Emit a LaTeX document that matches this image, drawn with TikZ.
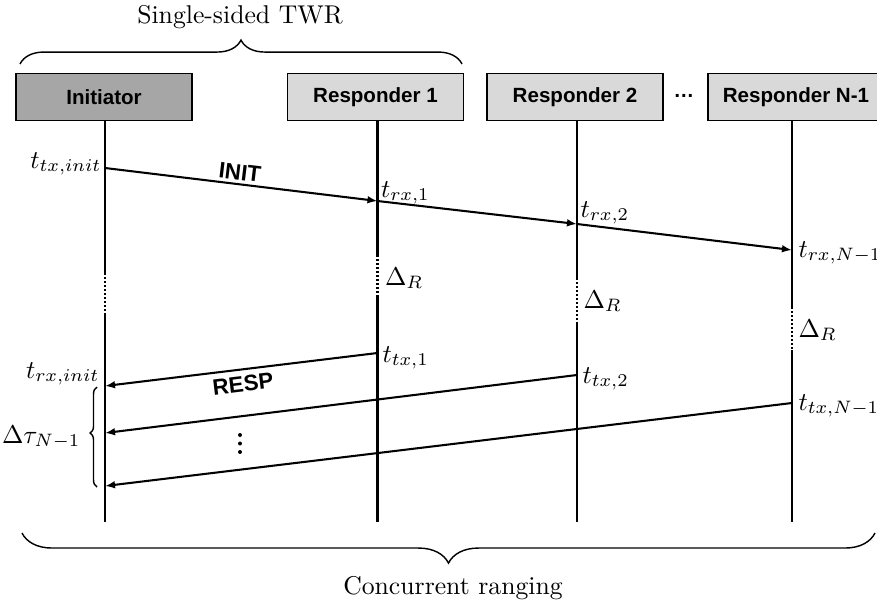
\documentclass[tikz,border=0pt]{standalone}
\usepackage{fontspec}
\newfontfamily\helv{Liberation Sans}
\usetikzlibrary{arrows.meta,decorations.pathreplacing}
\begin{document}
\begin{tikzpicture}[x=0.3891pt,y=-0.3891pt,
  actor/.style={draw=black, line width=0.5pt, minimum width=68.5pt,
    minimum height=18.3pt, inner sep=0pt,
    font=\helv\bfseries\fontsize{8}{9.6}\selectfont},
  lifeline/.style={line width=0.85pt},
  gap/.style={line width=0.85pt, dash pattern=on 0.78pt off 0.78pt},
  msg/.style={line width=0.8pt, -{Latex[length=3.9pt,width=3pt]}},
  msgtxt/.style={font=\helv\bfseries\fontsize{8.7}{10}\selectfont, sloped, inner sep=1.2pt},
  lbl/.style={inner sep=0pt},
  brc/.style={decorate, line width=0.55pt, decoration={brace, amplitude=#1}},
  brcside/.style={decorate, line width=0.55pt, decoration={brace, amplitude=2.7pt, aspect=0.54}},
]
\useasboundingbox (0,0) rectangle (877,613);

% participants
\node[actor, fill=black!35] (ini) at (104,97) {Initiator};
\node[actor, fill=black!15] (r1) at (375.5,97) {Responder 1};
\node[actor, fill=black!15] (r2) at (575,97) {Responder 2};
\node[actor, fill=black!15] (rn) at (796,97) {Responder N-1};
\node[font=\helv\bfseries\fontsize{8}{9.6}\selectfont] (more) at (684,96) {…};

% event points on the lifelines
\coordinate (tx0) at (105,168);
\coordinate (g0a) at (105,273);
\coordinate (g0b) at (105,315);
\coordinate (rxa) at (105,386);
\coordinate (rxb) at (105,433);
\coordinate (rxc) at (105,486);
\coordinate (e0)  at (105,522);

\coordinate (rx1) at (377.5,201);
\coordinate (g1a) at (377.5,255);
\coordinate (g1b) at (377.5,297);
\coordinate (tx1) at (377.5,353);
\coordinate (e1)  at (377.5,522);

\coordinate (rx2) at (577,224);
\coordinate (g2a) at (577,278);
\coordinate (g2b) at (577,322);
\coordinate (tx2) at (577,375);
\coordinate (e2)  at (577,522);

\coordinate (rx3) at (792,250);
\coordinate (g3a) at (792,307);
\coordinate (g3b) at (792,350);
\coordinate (tx3) at (792,403);
\coordinate (e3)  at (792,522);

% lifelines with their waiting gaps
\draw[lifeline] (ini.south -| tx0) -- (g0a);
\draw[gap] (g0a) -- (g0b);
\draw[lifeline] (g0b) -- (e0);
\draw[lifeline] (r1.south -| rx1) -- (g1a);
\draw[gap] (g1a) -- (g1b);
\draw[lifeline] (g1b) -- (e1);
\draw[lifeline] (r2.south -| rx2) -- (g2a);
\draw[gap] (g2a) -- (g2b);
\draw[lifeline] (g2b) -- (e2);
\draw[lifeline] (rn.south -| rx3) -- (g3a);
\draw[gap] (g3a) -- (g3b);
\draw[lifeline] (g3b) -- (e3);

% messages
\draw[msg] (tx0) -- node[msgtxt, above, pos=0.49] {INIT} (rx1);
\draw[msg] (rx1) -- (rx2);
\draw[msg] (rx2) -- (rx3);
\draw[msg] (tx1) -- node[msgtxt, below, pos=0.5, inner sep=2.2pt] {RESP} (rxa);
\draw[msg] (tx2) -- (rxb);
\draw[msg] (tx3) -- (rxc);

% vertical ellipsis between the responses
\fill (240,435) circle (2);
\fill (240,443.5) circle (2);
\fill (240,452) circle (2);

% timestamps
\node[lbl, anchor=base east] (ltx0) at ([shift={(-3,0)}]tx0) {$t_{tx,init}$};
\node[lbl, anchor=base west] (lrx1) at ([shift={(3,-4)}]rx1) {$t_{rx,1}$};
\node[lbl, anchor=base west] (lrx2) at ([shift={(3,-7)}]rx2) {$t_{rx,2}$};
\node[lbl, anchor=base west] (lrx3) at ([shift={(6,7)}]rx3) {$t_{rx,N-1}$};
\node[lbl, anchor=base west] (d1) at ([shift={(7,30)}]g1a) {$\Delta_R$};
\node[lbl, anchor=base west] (d2) at ([shift={(6,30)}]g2a) {$\Delta_R$};
\node[lbl, anchor=base west] (d3) at ([shift={(6,30)}]g3a) {$\Delta_R$};
\node[lbl, anchor=base west] (ltx1) at ([shift={(4.5,9)}]tx1) {$t_{tx,1}$};
\node[lbl, anchor=base west] (ltx2) at ([shift={(5,8)}]tx2) {$t_{tx,2}$};
\node[lbl, anchor=base west] (ltx3) at ([shift={(6,7)}]tx3) {$t_{tx,N-1}$};
\node[lbl, anchor=base east] (lrxa) at ([shift={(-5,-8)}]rxa) {$t_{rx,init}$};

% spread of the response arrivals
\draw[brcside] ([shift={(-8,1)}]rxc) -- ([shift={(-8,1)}]rxa);
\node[lbl, anchor=base east] (dtau) at ([shift={(-24,10)}]rxb) {$\Delta\tau_{N-1}$};

% scopes of the two schemes
\draw[brc=9.3pt] (20,64) -- (462,64);
\node (twr) at (240,17) {Single-sided TWR};
\draw[brc=11.7pt] (875,533) -- (22,533);
\node (cr) at (453,588) {Concurrent ranging};
\end{tikzpicture}
\end{document}
